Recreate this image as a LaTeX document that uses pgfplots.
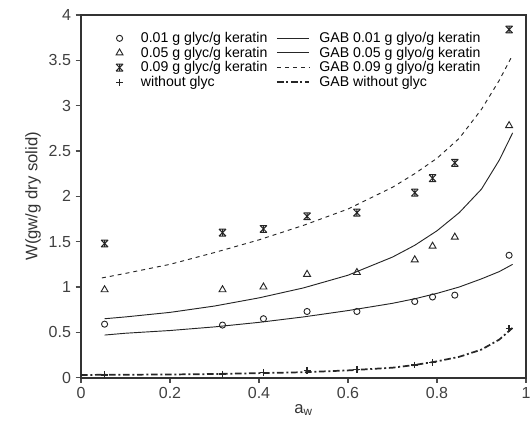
\documentclass[border=0pt]{standalone}
\usepackage{fontspec}
\setmainfont{Liberation Sans}
\usepackage{pgfplots}
\pgfplotsset{compat=1.18}
\pgfdeclareplotmark{xbar}{%
  \pgfpathmoveto{\pgfqpoint{-\pgfplotmarksize}{\pgfplotmarksize}}%
  \pgfpathlineto{\pgfqpoint{\pgfplotmarksize}{-\pgfplotmarksize}}%
  \pgfpathmoveto{\pgfqpoint{\pgfplotmarksize}{\pgfplotmarksize}}%
  \pgfpathlineto{\pgfqpoint{-\pgfplotmarksize}{-\pgfplotmarksize}}%
  \pgfpathmoveto{\pgfqpoint{-\pgfplotmarksize}{\pgfplotmarksize}}%
  \pgfpathlineto{\pgfqpoint{\pgfplotmarksize}{\pgfplotmarksize}}%
  \pgfpathmoveto{\pgfqpoint{-\pgfplotmarksize}{-\pgfplotmarksize}}%
  \pgfpathlineto{\pgfqpoint{\pgfplotmarksize}{-\pgfplotmarksize}}%
  \pgfpathmoveto{\pgfqpoint{0pt}{\pgfplotmarksize}}%
  \pgfpathlineto{\pgfqpoint{0pt}{-\pgfplotmarksize}}%
  \pgfusepathqstroke}
\pgfplotsset{
  longline/.style={legend image code/.code={\draw[##1] (0cm,0cm) -- (0.85cm,0cm);}},
  markimg/.style={legend image code/.code={\path (0cm,0cm) (0.6cm,0cm); \draw[##1] plot coordinates {(0.3cm,0cm)};}},
}
\begin{document}
\begin{tikzpicture}
\begin{axis}[
  name=ax,
  scale only axis, width=333.75pt, height=272pt,
  xmin=0, xmax=1, ymin=0, ymax=4,
  xtick={0,0.2,...,1}, ytick={0,0.5,...,4},
  /pgf/number format/assume math mode=true,
  tick label style={font=\fontsize{12}{14}\selectfont, text=black!75},
  tick align=outside, tick pos=left,
  major tick length=4pt,
  tick style={black!70, line width=0.8pt},
  axis line style={line width=1.3pt, black!80},
  xlabel={a$_{\mathrm{w}}$}, ylabel={W(gw/g dry solid)},
  label style={font=\fontsize{12.5}{14}\selectfont, text=black!80},
  xlabel style={yshift=3pt}, ylabel style={yshift=-1pt},
  legend columns=2,
  legend style={draw=none, fill=none, at={(0.05,0.968)}, anchor=north west,
    font=\fontsize{10.6}{11}\selectfont, row sep=-2.2pt, column sep=0pt,
    /tikz/every odd column/.append style={column sep=5pt},
    /tikz/every even column/.append style={column sep=4.5pt}},
  legend cell align=left,
]
\addplot[only marks, mark=o, mark size=2.3pt, line width=0.7pt, black!85, markimg] coordinates {
(0.053,0.59)(0.318,0.58)(0.41,0.65)(0.508,0.73)(0.62,0.73)(0.75,0.84)(0.79,0.89)(0.84,0.91)(0.962,1.35)};
\addlegendentry{0.01 g glyc/g keratin}
\addplot[black!85, line width=0.7pt, no marks, longline] coordinates {
(0.053,0.47)(0.1,0.49)(0.2,0.52)(0.3,0.56)(0.4,0.61)(0.5,0.67)(0.6,0.74)(0.7,0.82)(0.75,0.87)(0.8,0.93)(0.85,1.0)(0.9,1.09)(0.94,1.17)(0.97,1.25)};
\addlegendentry{GAB 0.01 g glyo/g keratin}
\addplot[only marks, mark=triangle, mark size=3pt, line width=0.7pt, black!85, markimg] coordinates {
(0.053,0.97)(0.318,0.97)(0.41,1.00)(0.508,1.14)(0.62,1.16)(0.75,1.30)(0.79,1.45)(0.84,1.55)(0.962,2.78)};
\addlegendentry{0.05 g glyc/g keratin}
\addplot[black!85, line width=0.7pt, no marks, longline] coordinates {
(0.053,0.65)(0.1,0.67)(0.2,0.72)(0.3,0.79)(0.4,0.88)(0.5,0.99)(0.6,1.13)(0.7,1.33)(0.75,1.46)(0.8,1.62)(0.85,1.82)(0.9,2.08)(0.94,2.40)(0.97,2.70)};
\addlegendentry{GAB 0.05 g glyo/g keratin}
\addplot[only marks, mark=xbar, mark size=2.6pt, line width=0.75pt, black!85, markimg] coordinates {
(0.053,1.48)(0.318,1.60)(0.41,1.64)(0.508,1.78)(0.62,1.82)(0.75,2.04)(0.79,2.20)(0.84,2.37)(0.962,3.84)};
\addlegendentry{0.09 g glyc/g keratin}
\addplot[black!85, line width=0.7pt, dashed, no marks, longline] coordinates {
(0.047,1.10)(0.1,1.15)(0.2,1.25)(0.3,1.38)(0.4,1.52)(0.5,1.68)(0.6,1.86)(0.7,2.10)(0.75,2.25)(0.8,2.42)(0.85,2.64)(0.9,2.96)(0.94,3.28)(0.97,3.56)};
\addlegendentry{GAB 0.09 g glyo/g keratin}
\addplot[only marks, mark=+, mark size=2.6pt, line width=1pt, black!85, markimg] coordinates {
(0.053,0.03)(0.318,0.04)(0.41,0.06)(0.508,0.08)(0.62,0.09)(0.75,0.14)(0.79,0.17)(0.962,0.54)};
\addlegendentry{without glyc}
\addplot[black!85, line width=1.3pt, dash pattern=on 5pt off 2pt on 1.5pt off 2pt, no marks, longline] coordinates {
(0.0,0.03)(0.2,0.035)(0.3,0.04)(0.4,0.05)(0.5,0.06)(0.6,0.08)(0.7,0.11)(0.75,0.14)(0.8,0.18)(0.85,0.23)(0.9,0.31)(0.94,0.42)(0.97,0.55)};
\addlegendentry{GAB without glyc}
\end{axis}
\pgfresetboundingbox
\useasboundingbox ([xshift=-60.75pt, yshift=-39.75pt]ax.south west) rectangle ([xshift=3.75pt, yshift=11.25pt]ax.north east);
\end{tikzpicture}
\end{document}
